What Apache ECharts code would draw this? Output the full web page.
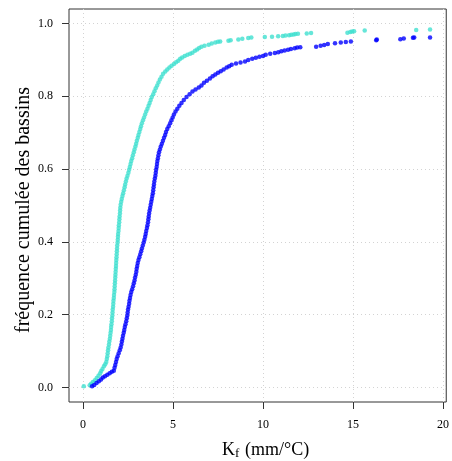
<!DOCTYPE html>
<html><head><meta charset="utf-8">
<script src="https://cdn.jsdelivr.net/npm/echarts@6/dist/echarts.min.js"></script>
<style>html,body{margin:0;padding:0;background:#fff}#c{width:452px;height:461px}</style>
</head><body><div id="c"></div>
<script>
const xTicks = [0, 5, 10, 15, 20];
const yTicks = [0, 0.2, 0.4, 0.6, 0.8, 1.0];
const xRange = [-0.78, 20.18];
const yRange = [-0.04, 1.04];

const turqX = [0.04,0.37,0.45,0.55,0.66,0.76,0.86,0.95,1.01,1.08,1.16,1.23,1.29,1.32,1.35,1.37,1.39,1.41,1.44,1.46,1.49,1.51,1.53,1.55,1.56,1.58,1.60,1.61,1.63,1.64,1.65,1.67,1.68,1.69,1.71,1.72,1.74,1.75,1.76,1.77,1.78,1.79,1.80,1.81,1.82,1.83,1.84,1.85,1.86,1.87,1.88,1.89,1.90,1.92,1.93,1.94,1.95,1.97,1.98,1.99,2.01,2.02,2.03,2.05,2.06,2.07,2.09,2.12,2.15,2.19,2.23,2.27,2.31,2.34,2.38,2.42,2.47,2.52,2.56,2.60,2.64,2.68,2.73,2.77,2.82,2.86,2.91,2.95,2.99,3.04,3.08,3.13,3.18,3.22,3.27,3.33,3.39,3.45,3.51,3.58,3.64,3.70,3.76,3.82,3.90,3.97,4.04,4.12,4.19,4.27,4.36,4.45,4.57,4.68,4.80,4.92,5.05,5.17,5.29,5.40,5.51,5.65,5.80,5.95,6.08,6.22,6.34,6.45,6.58,6.75,6.98,7.15,7.35,7.50,7.62,8.08,8.20,8.63,8.85,9.18,9.35,10.10,10.50,10.84,11.10,11.25,11.45,11.57,11.70,11.80,11.94,12.43,12.67,14.69,14.85,14.95,15.06,15.65,18.51,19.28];
const turqF = [0.003,0.006,0.010,0.015,0.020,0.026,0.032,0.039,0.045,0.051,0.058,0.064,0.070,0.078,0.086,0.094,0.102,0.110,0.118,0.126,0.134,0.142,0.150,0.158,0.166,0.174,0.182,0.190,0.198,0.206,0.214,0.222,0.230,0.238,0.246,0.254,0.262,0.270,0.278,0.286,0.294,0.302,0.310,0.318,0.326,0.334,0.342,0.350,0.358,0.366,0.374,0.382,0.390,0.398,0.406,0.414,0.422,0.430,0.438,0.446,0.454,0.462,0.470,0.478,0.486,0.494,0.502,0.510,0.518,0.526,0.534,0.542,0.550,0.558,0.566,0.574,0.582,0.590,0.598,0.606,0.614,0.622,0.630,0.638,0.646,0.654,0.662,0.670,0.678,0.686,0.694,0.702,0.710,0.718,0.726,0.734,0.742,0.750,0.758,0.766,0.774,0.782,0.790,0.798,0.806,0.814,0.822,0.830,0.838,0.846,0.854,0.862,0.868,0.874,0.879,0.884,0.889,0.894,0.898,0.903,0.907,0.911,0.914,0.917,0.920,0.925,0.929,0.933,0.936,0.939,0.942,0.945,0.948,0.950,0.951,0.953,0.954,0.956,0.958,0.960,0.962,0.963,0.964,0.965,0.966,0.967,0.968,0.969,0.970,0.971,0.972,0.973,0.974,0.975,0.977,0.978,0.979,0.981,0.982,0.984];

const blueX = [0.50,0.62,0.75,0.88,1.00,1.10,1.22,1.35,1.48,1.60,1.71,1.75,1.79,1.83,1.87,1.92,1.98,2.04,2.09,2.13,2.16,2.19,2.22,2.26,2.29,2.32,2.36,2.40,2.43,2.46,2.48,2.50,2.53,2.56,2.58,2.61,2.64,2.68,2.73,2.78,2.82,2.86,2.89,2.93,2.96,2.98,3.01,3.04,3.08,3.13,3.18,3.23,3.27,3.32,3.37,3.41,3.45,3.48,3.51,3.55,3.58,3.61,3.63,3.65,3.67,3.70,3.73,3.76,3.79,3.82,3.85,3.88,3.90,3.92,3.94,3.96,3.99,4.02,4.04,4.06,4.09,4.11,4.13,4.16,4.19,4.22,4.27,4.32,4.38,4.44,4.50,4.56,4.61,4.68,4.76,4.84,4.91,4.98,5.05,5.14,5.24,5.35,5.47,5.60,5.75,5.92,6.08,6.25,6.43,6.58,6.72,6.88,7.05,7.20,7.35,7.50,7.65,7.81,7.98,8.12,8.26,8.50,8.75,9.00,9.18,9.40,9.60,9.80,10.00,10.15,10.40,10.66,10.85,11.02,11.20,11.39,11.55,11.76,11.90,12.07,12.95,13.20,13.40,13.60,14.00,14.32,14.60,14.88,16.29,16.32,17.63,17.82,18.33,18.40,19.28];
const blueF = [0.003,0.007,0.012,0.017,0.022,0.027,0.031,0.035,0.039,0.043,0.046,0.054,0.062,0.070,0.078,0.086,0.094,0.102,0.110,0.118,0.126,0.134,0.142,0.150,0.158,0.166,0.174,0.182,0.190,0.198,0.206,0.214,0.222,0.230,0.238,0.246,0.254,0.262,0.270,0.278,0.286,0.294,0.302,0.310,0.318,0.326,0.334,0.342,0.350,0.358,0.366,0.374,0.382,0.390,0.398,0.406,0.414,0.422,0.430,0.438,0.446,0.454,0.462,0.470,0.478,0.486,0.494,0.502,0.510,0.518,0.526,0.534,0.542,0.550,0.558,0.566,0.574,0.582,0.590,0.598,0.606,0.614,0.622,0.630,0.638,0.646,0.654,0.662,0.670,0.678,0.686,0.694,0.702,0.710,0.718,0.726,0.734,0.742,0.750,0.758,0.766,0.774,0.782,0.790,0.798,0.806,0.813,0.819,0.824,0.830,0.837,0.843,0.849,0.855,0.860,0.865,0.869,0.874,0.879,0.883,0.887,0.890,0.893,0.896,0.900,0.903,0.906,0.909,0.911,0.914,0.917,0.919,0.921,0.924,0.926,0.928,0.930,0.932,0.934,0.935,0.936,0.939,0.941,0.944,0.946,0.948,0.949,0.951,0.954,0.956,0.957,0.959,0.961,0.962,0.962];

const zip = (a, b) => a.map((v, i) => [v, b[i]]);
const serif = 'Liberation Serif';

const chart = echarts.init(document.getElementById('c'), null, {renderer: 'canvas'});
chart.setOption({
  animation: false,
  backgroundColor: '#fff',
  grid: {left: 69, right: 2, top: 9, bottom: 59, show: true, borderColor: '#333', borderWidth: 1, backgroundColor: 'transparent'},
  xAxis: {
    type: 'value', min: xRange[0], max: xRange[1],
    axisLine: {show: false, onZero: false},
    axisTick: {show: true, customValues: xTicks, length: 7, lineStyle: {color: '#333'}},
    axisLabel: {customValues: xTicks, margin: 17, fontFamily: serif, fontSize: 12, color: '#000', formatter: v => String(v)},
    splitLine: {show: true, lineStyle: {type: [1, 3], color: '#d3d3d3', width: 1}}
  },
  yAxis: {
    type: 'value', min: yRange[0], max: yRange[1],
    axisLine: {show: false, onZero: false},
    axisTick: {show: true, customValues: yTicks, length: 7, lineStyle: {color: '#333'}},
    axisLabel: {customValues: yTicks, margin: 16, fontFamily: serif, fontSize: 12, color: '#000', formatter: v => v.toFixed(1)},
    splitLine: {show: true, lineStyle: {type: [1, 3], color: '#d3d3d3', width: 1}}
  },
  series: [
    {type: 'scatter', data: zip(turqX, turqF), symbol: 'circle', symbolSize: 4.5, itemStyle: {color: '#40E0D0'}, silent: true},
    {type: 'scatter', data: zip(blueX, blueF), symbol: 'circle', symbolSize: 4.5, itemStyle: {color: '#0000FF'}, silent: true}
  ],
  graphic: [
    {type: 'text', x: 24, y: 210, rotation: Math.PI / 2,
     style: {text: 'fréquence cumulée des bassins', font: '20px "Liberation Serif"', fill: '#000', align: 'center', verticalAlign: 'middle'}},
    {type: 'group', children: [
      {type: 'text', x: 222, y: 450, style: {text: 'K', font: '18px "Liberation Serif"', fill: '#000', align: 'left', verticalAlign: 'middle'}},
      {type: 'text', x: 235, y: 454, style: {text: 'f', font: '13px "Liberation Serif"', fill: '#000', align: 'left', verticalAlign: 'middle'}},
      {type: 'text', x: 245, y: 450, style: {text: '(mm/°C)', font: '18px "Liberation Serif"', fill: '#000', align: 'left', verticalAlign: 'middle'}}
    ]}
  ]
});
</script></body></html>
